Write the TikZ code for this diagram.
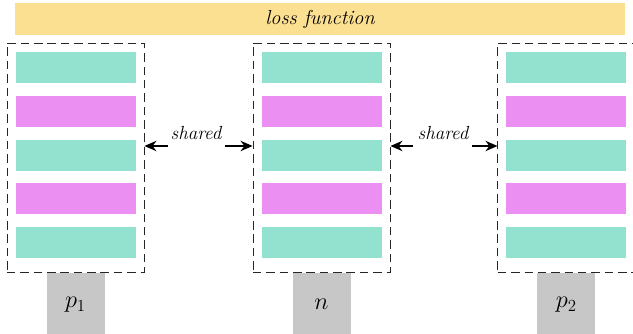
\documentclass[tikz,border=0pt]{standalone}
\usepackage{amsmath,amssymb}
\usepackage{xcolor}
\usepackage{tikz}
\usetikzlibrary{arrows.meta,positioning}

\definecolor{lossyellow}{HTML}{FCE091}
\definecolor{layerteal}{HTML}{93E2CF}
\definecolor{layerpink}{HTML}{EB90F2}
\definecolor{inputgray}{HTML}{C7C7C7}

\begin{document}
\begin{tikzpicture}[
    lossbar/.style={fill=lossyellow,minimum width=15.25cm,minimum height=0.8cm,inner sep=0pt,font=\Large\itshape},
    netbox/.style={draw=black!85,dash pattern=on 6pt off 3.5pt,line width=0.65pt,minimum width=3.425cm,minimum height=5.725cm,inner sep=0pt},
    layerA/.style={fill=layerteal,minimum width=3cm,minimum height=0.775cm,inner sep=0pt},
    layerB/.style={fill=layerpink,minimum width=3cm,minimum height=0.775cm,inner sep=0pt},
    inbox/.style={fill=inputgray,minimum width=1.45cm,minimum height=1.6cm,inner sep=0pt,anchor=north,font=\LARGE},
    sharedlabel/.style={above,yshift=2.5pt,font=\fontsize{13.5}{16}\selectfont\itshape,inner sep=1.5pt},
    sharearrow/.style={-{Stealth[length=3mm,width=2.6mm]},line width=0.8pt}
  ]
  \useasboundingbox (0,0) rectangle (15.825,8.35);

  % loss
  \node[lossbar] (loss) at (8.0,7.875) {loss function};

  % three networks
  \foreach \name/\x in {lnet/1.8875,mnet/8.0375,rnet/14.16}{
    \node[netbox] (\name) at (\x,4.4125) {};
    \foreach \i/\kind in {1/layerA,2/layerB,3/layerA,4/layerB,5/layerA}
      \node[\kind] (\name-\i) at (\x,{6.6625-(\i-1)*1.094}) {};
  }

  % inputs
  \node[inbox] (p1) at (lnet.south) {$p_1$};
  \node[inbox] (n) at (mnet.south) {$n$};
  \node[inbox] (p2) at (rnet.south) {$p_2$};

  % weight sharing
  \coordinate (s1) at (4.9,4.7);
  \coordinate (s2) at (11.075,4.7);
  \node[sharedlabel] (sh1) at (s1) {shared};
  \node[sharedlabel] (sh2) at (s2) {shared};
  \draw[sharearrow] ([xshift=-0.7cm]s1) -- (s1 -| lnet.east);
  \draw[sharearrow] ([xshift=0.72cm]s1) -- (s1 -| mnet.west);
  \draw[sharearrow] ([xshift=-0.75cm]s2) -- (s2 -| mnet.east);
  \draw[sharearrow] ([xshift=0.72cm]s2) -- (s2 -| rnet.west);
\end{tikzpicture}
\end{document}
